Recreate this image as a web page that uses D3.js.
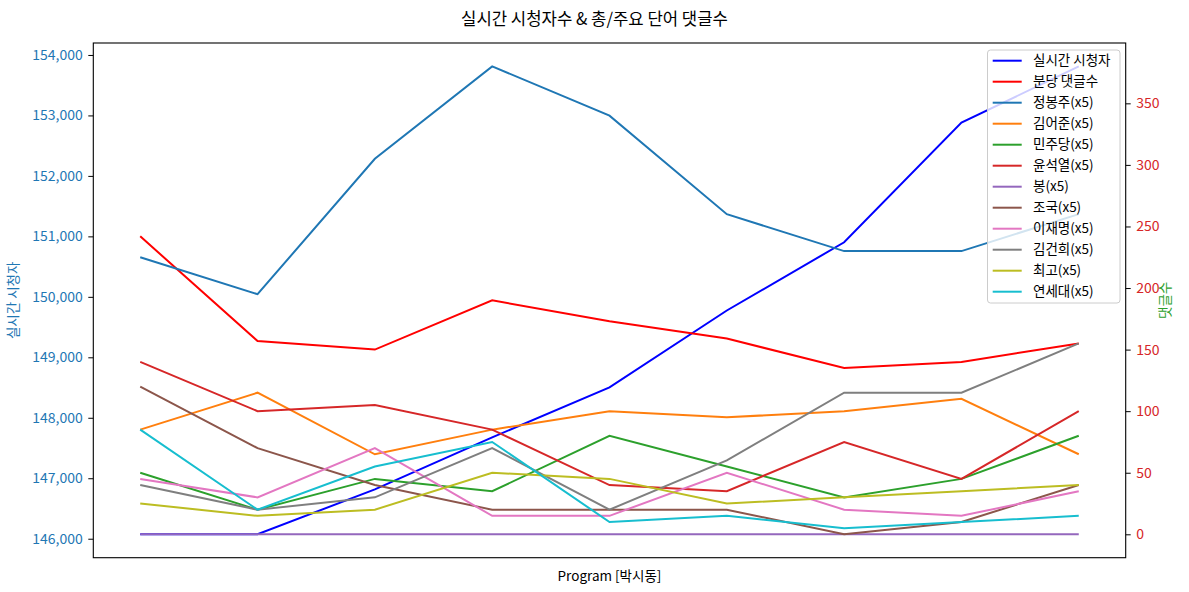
<!DOCTYPE html>
<html>
<head>
<meta charset="utf-8">
<script src="https://cdn.jsdelivr.net/npm/d3@7"></script>
<style>
  html, body { margin: 0; padding: 0; background: #fff; }
  svg { display: block; font-family: "Noto Sans CJK KR", "Noto Sans", sans-serif; }
</style>
</head>
<body>
<svg id="chart" width="1189" height="592"></svg>
<script>
// ---- data ----
const points = [0, 1, 2, 3, 4, 5, 6, 7, 8];
const viewers = [146073, 146073, 146817, 147677, 148504, 149774, 150902, 152881, 153811];
const commentsPerMin = [242, 157, 150, 190, 173, 159, 135, 140, 155];
const wordNames = ["정봉주(x5)", "김어준(x5)", "민주당(x5)", "윤석열(x5)", "봉(x5)", "조국(x5)", "이재명(x5)", "김건희(x5)", "최고(x5)", "연세대(x5)"];
const w정봉주 = [225, 195, 305, 380, 340, 260, 230, 230, 260];
const w김어준 = [85, 115, 65, 85, 100, 95, 100, 110, 65];
const w민주당 = [50, 20, 45, 35, 80, 55, 30, 45, 80];
const w윤석열 = [140, 100, 105, 85, 40, 35, 75, 45, 100];
const w봉 = [0, 0, 0, 0, 0, 0, 0, 0, 0];
const w조국 = [120, 70, 40, 20, 20, 20, 0, 10, 40];
const w이재명 = [45, 30, 70, 15, 15, 50, 20, 15, 35];
const w김건희 = [40, 20, 30, 70, 20, 60, 115, 115, 155];
const w최고 = [25, 15, 20, 50, 45, 25, 30, 35, 40];
const w연세대 = [85, 20, 55, 75, 10, 15, 5, 10, 15];
const wordSeries = [w정봉주, w김어준, w민주당, w윤석열, w봉, w조국, w이재명, w김건희, w최고, w연세대];
const wordColors = ["#1f77b4", "#ff7f0e", "#2ca02c", "#d62728", "#9467bd", "#8c564b", "#e377c2", "#7f7f7f", "#bcbd22", "#17becf"];
const leftTicks = [146000, 147000, 148000, 149000, 150000, 151000, 152000, 153000, 154000];
const rightTicks = [0, 50, 100, 150, 200, 250, 300, 350];
const title = "실시간 시청자수 & 총/주요 단어 댓글수";
const xLabel = "Program [박시동]";
const leftLabel = "실시간 시청자";
const rightLabel = "댓글수";

// ---- layout ----
const L = 93.3, R = 1125.7, T = 43, B = 557.7;
const svg = d3.select("#chart");

function padDomain(lo, hi) { const p = (hi - lo) * 0.05; return [lo - p, hi + p]; }

const x = d3.scaleLinear().domain(padDomain(0, points.length - 1)).range([L, R]);
const yL = d3.scaleLinear().domain(padDomain(d3.min(viewers), d3.max(viewers))).range([B, T]);
const allRight = commentsPerMin.concat(...wordSeries);
const yR = d3.scaleLinear().domain(padDomain(d3.min(allRight), d3.max(allRight))).range([B, T]);

svg.append("defs").append("clipPath").attr("id", "clip")
  .append("rect").attr("x", L).attr("y", T).attr("width", R - L).attr("height", B - T);

const gPlot = svg.append("g").attr("clip-path", "url(#clip)");
const lineL = d3.line().x((d, i) => x(points[i])).y(d => yL(d));
const lineR = d3.line().x((d, i) => x(points[i])).y(d => yR(d));

gPlot.append("path").datum(viewers).attr("d", lineL)
  .attr("fill", "none").attr("stroke", "#0000ff").attr("stroke-width", 2);

gPlot.append("path").datum(commentsPerMin).attr("d", lineR)
  .attr("fill", "none").attr("stroke", "#ff0000").attr("stroke-width", 2);

wordSeries.forEach((s, k) => {
  gPlot.append("path").datum(s).attr("d", lineR)
    .attr("fill", "none").attr("stroke", wordColors[k]).attr("stroke-width", 2);
});

// axes
const axL = svg.append("g").attr("transform", `translate(${L},0)`)
  .call(d3.axisLeft(yL).tickValues(leftTicks).tickFormat(d3.format(",")).tickSize(5).tickPadding(5.5));
axL.select(".domain").remove();
axL.selectAll("text").attr("fill", "#1f77b4").style("font-size", "14px")
  .style("font-family", "'Noto Sans CJK KR', sans-serif");
axL.selectAll("line").attr("stroke", "#000");

const axR = svg.append("g").attr("transform", `translate(${R},0)`)
  .call(d3.axisRight(yR).tickValues(rightTicks).tickSize(5).tickPadding(5.5));
axR.select(".domain").remove();
axR.selectAll("text").attr("fill", "#d62728").style("font-size", "14px")
  .style("font-family", "'Noto Sans CJK KR', sans-serif");
axR.selectAll("line").attr("stroke", "#000");

// spines
svg.append("rect").attr("x", L).attr("y", T).attr("width", R - L).attr("height", B - T)
  .attr("fill", "none").attr("stroke", "#000").attr("stroke-width", 1.1);

// labels
svg.append("text").attr("x", 594.5).attr("y", 24.5).attr("text-anchor", "middle")
  .style("font-size", "16.7px").attr("fill", "#000").text(title);
svg.append("text").attr("x", (L + R) / 2).attr("y", 581).attr("text-anchor", "middle")
  .style("font-size", "13.5px").attr("fill", "#000").text(xLabel);
svg.append("text").attr("transform", `translate(18,${(T + B) / 2}) rotate(-90)`)
  .attr("text-anchor", "middle").style("font-size", "13.5px").attr("fill", "#1f77b4").text(leftLabel);
svg.append("text").attr("transform", `translate(1170,${(T + B) / 2}) rotate(-90)`)
  .attr("text-anchor", "middle").style("font-size", "13.5px").attr("fill", "#2ca02c").text(rightLabel);

// legend
const legItems = [{ name: "실시간 시청자", color: "#0000ff" }, { name: "분당 댓글수", color: "#ff0000" }]
  .concat(wordNames.map((n, k) => ({ name: n, color: wordColors[k] })));
const lg = svg.append("g");
lg.append("rect").attr("x", 987.5).attr("y", 50).attr("width", 132.5).attr("height", 253)
  .attr("rx", 3).attr("fill", "#fff").attr("fill-opacity", 0.8).attr("stroke", "#cccccc").attr("stroke-width", 1);
legItems.forEach((it, i) => {
  const yy = 60.7 + i * 21;
  lg.append("line").attr("x1", 992.7).attr("x2", 1021.7).attr("y1", yy).attr("y2", yy)
    .attr("stroke", it.color).attr("stroke-width", 2);
  lg.append("text").attr("x", 1033).attr("y", yy).attr("dy", "0.35em")
    .style("font-size", "13.5px").attr("fill", "#000").text(it.name);
});
</script>
</body>
</html>
